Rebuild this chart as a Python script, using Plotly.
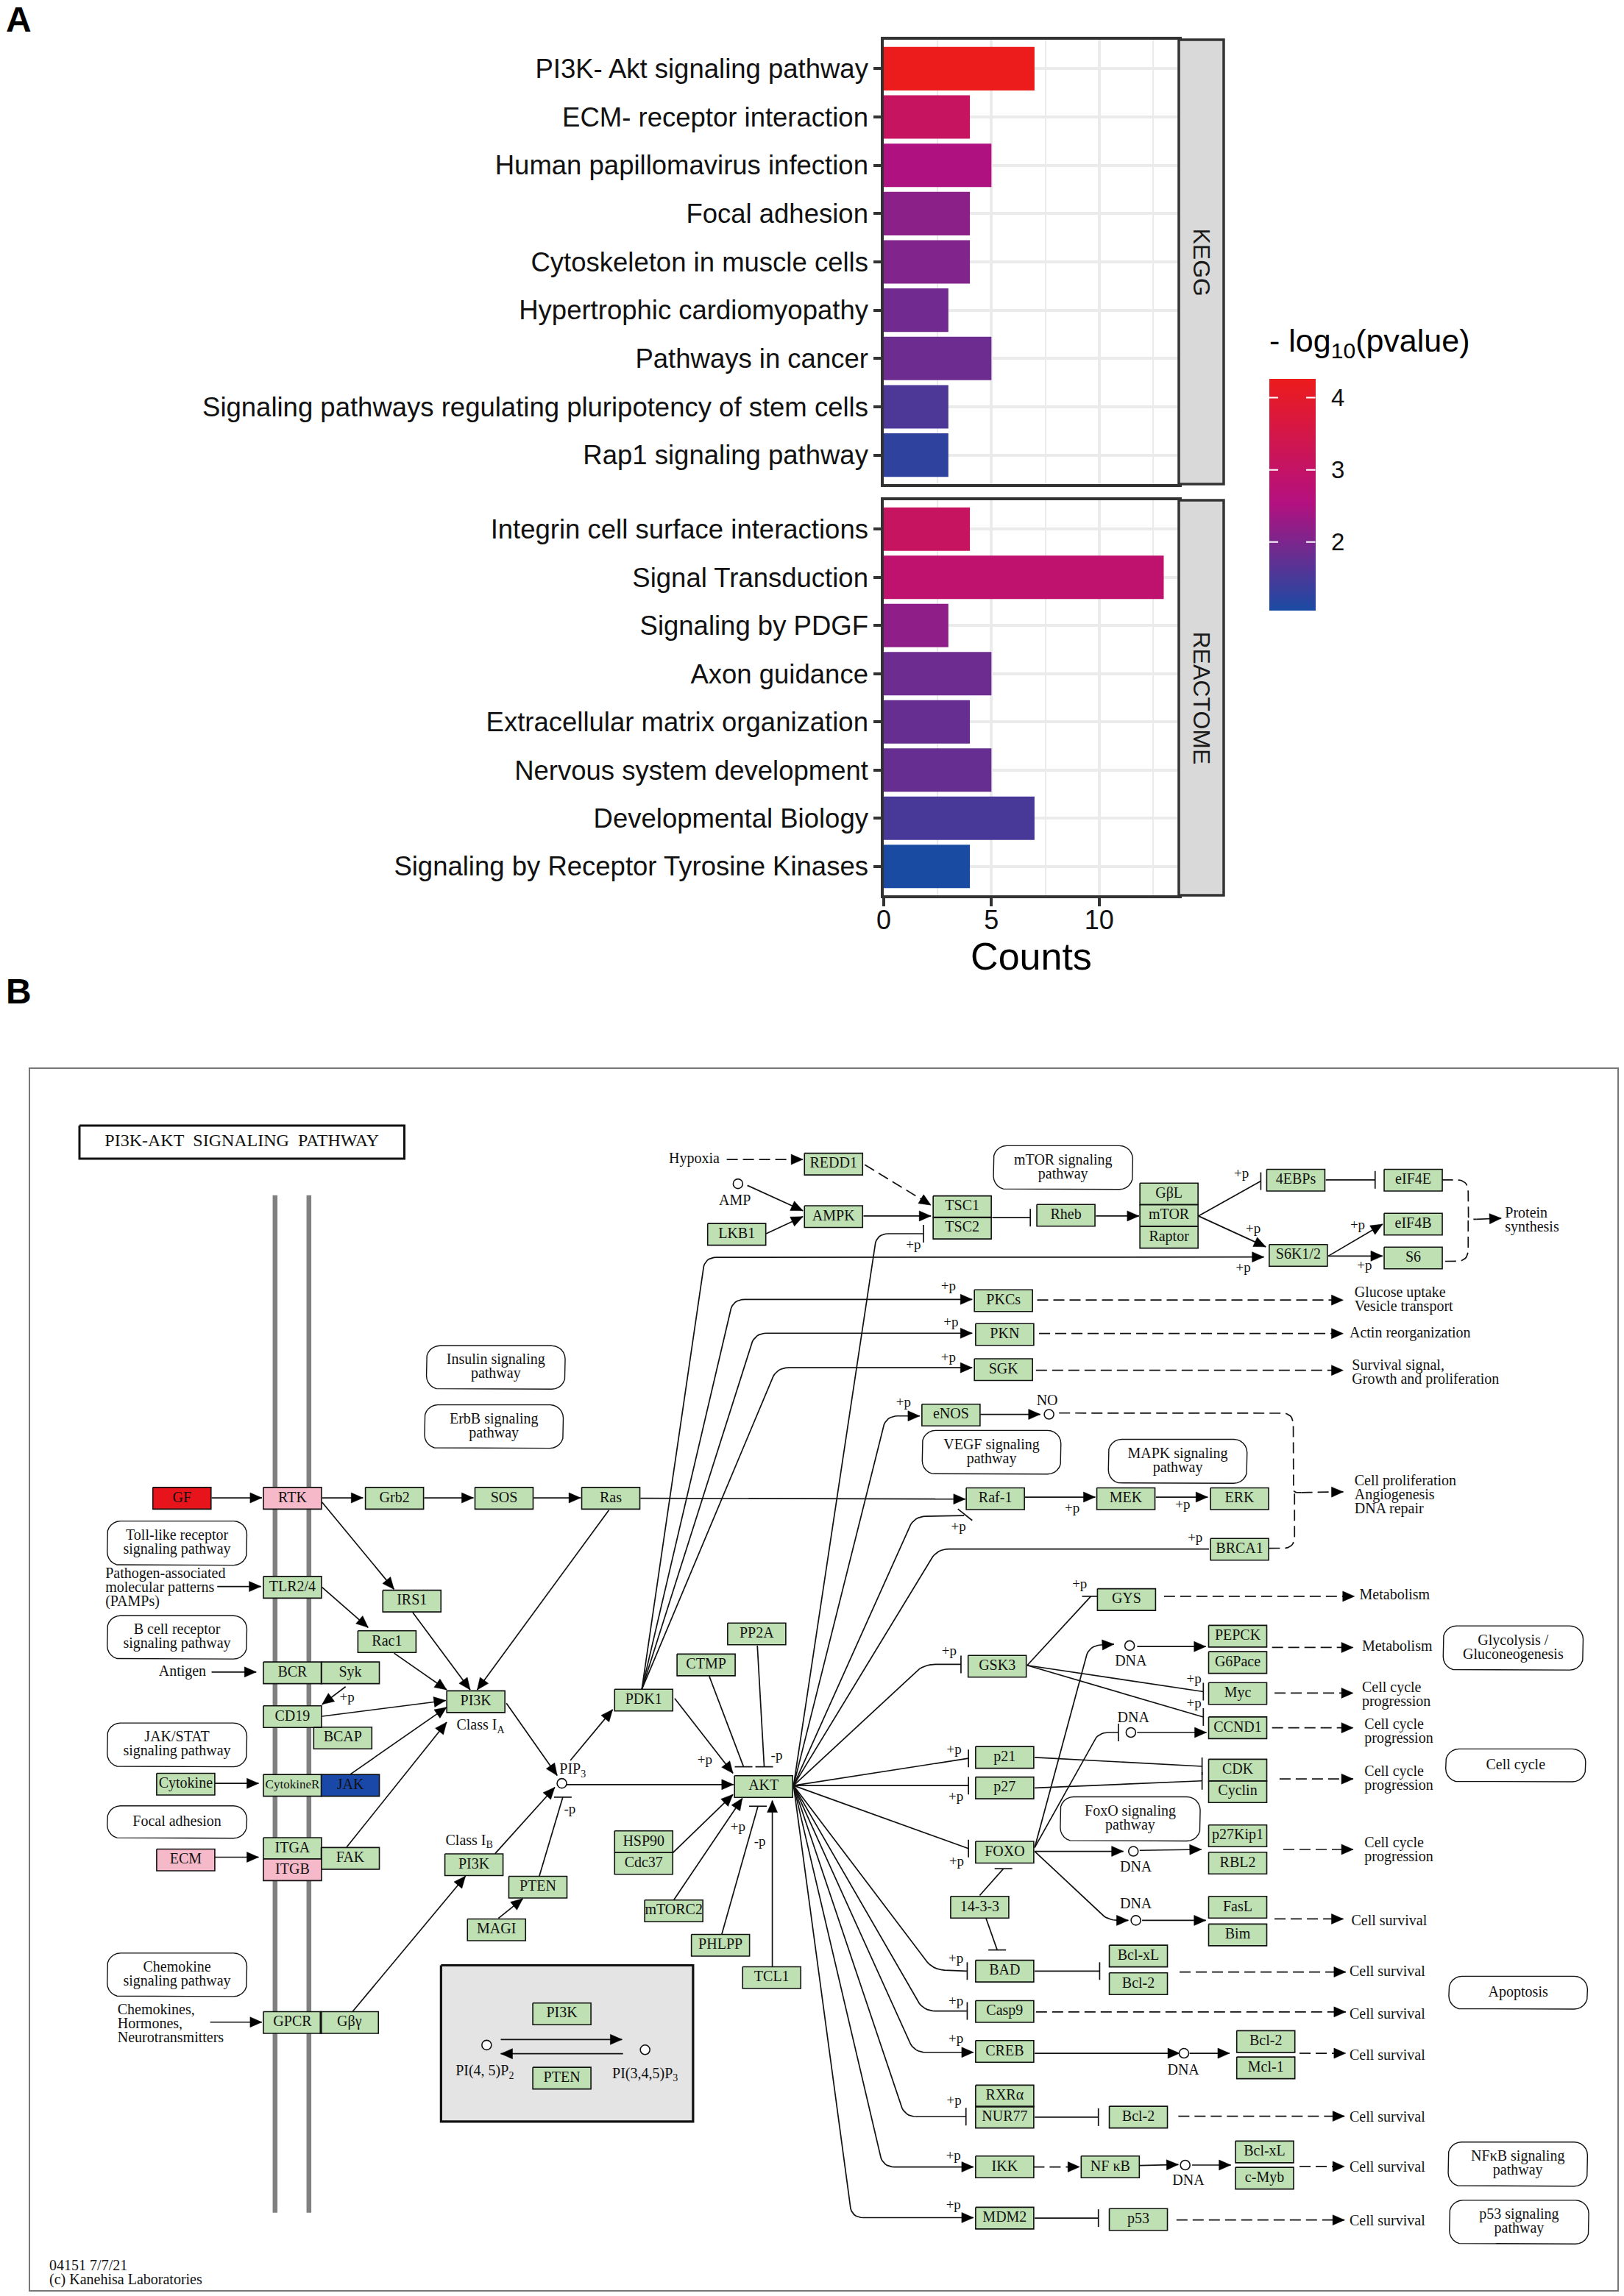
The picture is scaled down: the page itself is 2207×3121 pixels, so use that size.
import math
import plotly.graph_objects as go

# ---------- Panel A data ----------
kegg_terms = ["PI3K- Akt signaling pathway", "ECM- receptor interaction", "Human papillomavirus infection",
              "Focal adhesion", "Cytoskeleton in muscle cells", "Hypertrophic cardiomyopathy",
              "Pathways in cancer", "Signaling pathways regulating pluripotency of stem cells",
              "Rap1 signaling pathway"]
kegg_counts = [7, 4, 5, 4, 4, 3, 5, 3, 3]
kegg_logp = [4.26, 3.1, 2.5, 2.15, 2.05, 1.9, 1.85, 1.55, 1.25]
reactome_terms = ["Integrin cell surface interactions", "Signal Transduction", "Signaling by PDGF", "Axon guidance",
                  "Extracellular matrix organization", "Nervous system development", "Developmental Biology",
                  "Signaling by Receptor Tyrosine Kinases"]
reactome_counts = [4, 13, 3, 5, 4, 5, 7, 4]
reactome_logp = [3.1, 2.85, 2.2, 1.85, 1.8, 1.8, 1.5, 1.05]
legend_ticks = [2, 3, 4]

W, H = 2207, 3121
SANS, SERIF = "Liberation Sans", "Liberation Serif"


def fx(p):
    return p / W


def fy(p):
    return 1 - p / H


# ---------- Panel B data: pathway map tables, in map units of each of four sheets ----------
SHEETS = {"a": (0, 1.565, 1441, 1.867), "b": (0, 1.565, 2282, 1.864),
          "c": (881.5, 1.178, 1502, 2.24), "d": (881.5, 1.178, 2122, 1.5664)}


def mp(r, x, y):
    ox, sx, oy, sy = SHEETS[r]
    return ox + x / sx, oy + y / sy


nodes = [
    ("a", "GF", 387, 1112, "red"), ("a", "RTK", 622, 1112, "pink"), ("a", "Grb2", 839, 1112, "g"),
    ("a", "SOS", 1072, 1112, "g"), ("a", "Ras", 1299, 1112, "g"), ("a", "TLR2/4", 622, 1338, "g"),
    ("a", "IRS1", 876, 1373, "g"), ("a", "Rac1", 823, 1476, "g"), ("a", "BCR", 622, 1555, "g"),
    ("a", "Syk", 745, 1555, "g"),
    ("b", "PI3K", 1012, 58, "g"), ("b", "PDK1", 1369, 54, "g"), ("b", "CD19", 622, 96, "g"),
    ("b", "BCAP", 729, 150, "g"), ("b", "Cytokine", 395, 267, "g"), ("b", "CytokineR", 622, 270, "g"),
    ("b", "JAK", 745, 270, "blue"), ("b", "ITGA", 622, 430, "g"), ("b", "ECM", 395, 459, "pink"),
    ("b", "ITGB", 622, 484, "pink"), ("b", "FAK", 745, 455, "g"), ("b", "PI3K", 1008, 471, "g"),
    ("b", "PTEN", 1144, 528, "g"), ("b", "MAGI", 1056, 636, "g"), ("b", "HSP90", 1369, 413, "g"),
    ("b", "Cdc37", 1369, 468, "g"), ("b", "mTORC2", 1433, 588, "g"), ("b", "GPCR", 622, 871, "g"),
    ("b", "G\u03b2\u03b3", 743, 871, "g"), ("b", "PI3K", 1195, 849, "g"), ("b", "PTEN", 1195, 1012, "g"),
    ("c", "REDD1", 296, 180, "g"), ("c", "AMPK", 296, 340, "g"), ("c", "LKB1", 141, 394, "g"),
    ("c", "TSC1", 502, 310, "g"), ("c", "TSC2", 502, 375, "g"), ("c", "Rheb", 668, 336, "g"),
    ("c", "G\u03b2L", 833, 271, "g"), ("c", "mTOR", 833, 336, "g"), ("c", "Raptor", 833, 403, "g"),
    ("c", "4EBPs", 1036, 229, "g"), ("c", "eIF4E", 1224, 229, "g"), ("c", "eIF4B", 1224, 363, "g"),
    ("c", "S6", 1224, 466, "g"), ("c", "S6K1/2", 1040, 458, "g"), ("c", "PKCs", 568, 596, "g"),
    ("c", "PKN", 570, 699, "g"), ("c", "SGK", 568, 806, "g"), ("c", "eNOS", 484, 944, "g"),
    ("c", "Raf-1", 555, 1199, "g"), ("c", "MEK", 764, 1199, "g"), ("c", "ERK", 946, 1199, "g"),
    ("c", "BRCA1", 946, 1353, "g"),
    ("d", "GYS", 765, 82, "g"), ("d", "PP2A", 173, 155, "g"), ("d", "CTMP", 92, 221, "g"),
    ("d", "AKT", 184, 480, "g"), ("d", "TCL1", 197, 887, "g"), ("d", "PHLPP", 115, 818, "g"),
    ("d", "GSK3", 558, 224, "g"), ("d", "p21", 570, 418, "g"), ("d", "p27", 570, 483, "g"),
    ("d", "FOXO", 570, 620, "g"), ("d", "14-3-3", 530, 737, "g"), ("d", "BAD", 570, 873, "g"),
    ("d", "Casp9", 570, 959, "g"), ("d", "CREB", 570, 1044, "g"), ("d", "RXR\u03b1", 570, 1139, "g"),
    ("d", "NUR77", 570, 1184, "g"), ("d", "IKK", 570, 1290, "g"), ("d", "NF \u03baB", 739, 1290, "g"),
    ("d", "MDM2", 570, 1399, "g"), ("d", "p53", 784, 1402, "g"), ("d", "Bcl-xL", 784, 841, "g"),
    ("d", "Bcl-2", 784, 900, "g"), ("d", "PEPCK", 943, 160, "g"), ("d", "G6Pace", 943, 216, "g"),
    ("d", "Myc", 943, 282, "g"), ("d", "CCND1", 943, 355, "g"), ("d", "CDK", 943, 445, "g"),
    ("d", "Cyclin", 943, 491, "g"), ("d", "p27Kip1", 943, 585, "g"), ("d", "RBL2", 943, 643, "g"),
    ("d", "FasL", 943, 737, "g"), ("d", "Bim", 943, 796, "g"), ("d", "Bcl-2", 988, 1023, "g"),
    ("d", "Mcl-1", 988, 1079, "g"), ("d", "Bcl-2", 784, 1184, "g"), ("d", "Bcl-xL", 986, 1258, "g"),
    ("d", "c-Myb", 986, 1314, "g"),
]

pathways = [
    ("a", 907, 725, 1202, 835, "Insulin signaling\npathway"), ("a", 903, 875, 1198, 985, "ErbB signaling\npathway"),
    ("a", 228, 1170, 525, 1282, "Toll-like receptor\nsignaling pathway"),
    ("a", 228, 1410, 525, 1520, "B cell receptor\nsignaling pathway"),
    ("b", 228, 112, 525, 223, "JAK/STAT\nsignaling pathway"), ("b", 228, 322, 525, 404, "Focal adhesion"),
    ("b", 228, 695, 525, 805, "Chemokine\nsignaling pathway"),
    ("c", 552, 124, 775, 257, "mTOR signaling\npathway"), ("c", 438, 991, 660, 1124, "VEGF signaling\npathway"),
    ("c", 736, 1018, 958, 1152, "MAPK signaling\npathway"),
    ("d", 1272, 138, 1496, 232, "Glycolysis /\nGluconeogenesis"), ("d", 1276, 400, 1500, 470, "Cell cycle"),
    ("d", 659, 502, 883, 596, "FoxO signaling\npathway"), ("d", 1281, 884, 1503, 954, "Apoptosis"),
    ("d", 1280, 1237, 1503, 1331, "NF\u03baB signaling\npathway"), ("d", 1282, 1361, 1505, 1454, "p53 signaling\npathway"),
]

AKT = ("d", 232, 478)
PDK = ("b", 1365, 27)
edges = [
    # a arrow, i inhibition bar, n plain, da dashed arrow, dn dashed plain
    ("a", "a", [(450, 1111), (557, 1111)]), ("a", "a", [(685, 1111), (772, 1111)]),
    ("a", "a", [(902, 1111), (1007, 1111)]), ("a", "a", [(1135, 1111), (1235, 1111)]),
    ("a", "a", [(685, 1122), (838, 1343)]), ("a", "a", [(685, 1338), (783, 1440)]),
    ("a", "a", [(462, 1336), (555, 1336)]), ("a", "a", [(1295, 1142), ("b", 1015, 28)]),
    ("a", "a", [(878, 1402), ("b", 1000, 28)]), ("a", "a", [(838, 1505), ("b", 950, 28)]),
    ("a", "a", [(450, 1553), (545, 1553)]),
    ("a", "a", [(1362, 1112), ("c", 507, 1200)]),
    ("b", "a", [(735, 20), (685, 65)]), ("b", "a", [(685, 95), (948, 55)]), ("b", "a", [(745, 242), (950, 72)]),
    ("b", "a", [(737, 427), (950, 110)]), ("b", "a", [(457, 265), (550, 265)]), ("b", "a", [(457, 452), (550, 452)]),
    ("b", "a", [(447, 870), (557, 870)]), ("b", "a", [(750, 843), (990, 500)]), ("b", "a", [(1077, 62), (1185, 245)]),
    ("b", "a", [(1213, 207), (1303, 78)]), ("b", "a", [(1053, 443), (1180, 275)]), ("b", "a", [(1060, 607), (1112, 557)]),
    ("b", "i", [(1147, 500), (1197, 300)]), ("b", "a", [(1205, 268), (1560, 268)]),
    ("b", "a", [(1065, 914), (1323, 914)]), ("b", "a", [(1325, 950), (1065, 950)]),
    ("b", "a", [(1435, 50), ("d", 135, 452)]),
    ("b", "a", [PDK, ("c", 90, 464), ("c", 985, 463)]), ("b", "a", [PDK, ("c", 135, 592), ("c", 518, 592)]),
    ("b", "a", [PDK, ("c", 170, 695), ("c", 518, 695)]), ("b", "a", [PDK, ("c", 205, 800), ("c", 518, 800)]),
    ("d", "i", [AKT, ("c", 365, 392), ("c", 440, 392)]), ("d", "a", [AKT, ("c", 380, 947), ("c", 434, 947)]),
    ("d", "n", [AKT, ("c", 425, 1253), ("c", 505, 1250)]), ("c", "n", [(495, 1230), (518, 1265)]),
    ("d", "n", [AKT, ("c", 462, 1352), ("c", 897, 1352)]),
    ("d", "i", [AKT, (440, 220), (500, 220)]), ("d", "i", [AKT, (512, 420)]), ("d", "i", [AKT, (512, 478)]),
    ("d", "i", [AKT, (512, 612)]), ("d", "i", [AKT, (455, 870), (510, 873)]), ("d", "i", [AKT, (440, 958), (510, 958)]),
    ("d", "a", [AKT, (425, 1046), (520, 1046)]), ("d", "i", [AKT, (410, 1183), (508, 1183)]),
    ("d", "a", [AKT, (375, 1290), (520, 1290)]), ("d", "a", [AKT, (325, 1398), (520, 1398)]),
    ("d", "i", [(606, 222), (708, 75)]), ("d", "i", [(606, 222), (888, 278)]), ("d", "i", [(606, 222), (888, 332)]),
    ("d", "a", [(618, 610), (705, 180), (745, 177)]), ("d", "a", [(782, 182), (892, 182)]),
    ("d", "i", [(618, 610), (720, 365), (752, 365)]), ("d", "a", [(782, 365), (893, 365)]),
    ("d", "a", [(618, 618), (760, 618)]), ("d", "a", [(786, 616), (885, 614)]),
    ("d", "a", [(618, 618), (735, 765), (768, 765)]), ("d", "a", [(790, 765), (892, 765)]),
    ("d", "i", [(618, 418), (886, 437)]), ("d", "i", [(618, 483), (886, 468)]),
    ("d", "i", [(530, 712), (568, 655)]), ("d", "i", [(540, 760), (558, 828)]),
    ("d", "i", [(618, 873), (722, 873)]), ("d", "i", [(618, 1184), (720, 1184)]), ("d", "i", [(618, 1399), (720, 1399)]),
    ("d", "da", [(616, 1290), (690, 1290)]), ("d", "a", [(786, 1287), (848, 1285)]), ("d", "a", [(870, 1286), (932, 1286)]),
    ("d", "a", [(618, 1048), (850, 1048)]), ("d", "a", [(866, 1048), (930, 1048)]),
    ("d", "da", [(998, 184), (1128, 184)]), ("d", "da", [(1002, 281), (1128, 281)]), ("d", "da", [(998, 355), (1128, 355)]),
    ("d", "da", [(1010, 464), (1128, 464)]), ("d", "da", [(1016, 614), (1128, 614)]), ("d", "da", [(1002, 762), (1112, 762)]),
    ("d", "da", [(850, 875), (1116, 875)]), ("d", "da", [(620, 960), (1116, 960)]), ("d", "da", [(1042, 1048), (1116, 1048)]),
    ("d", "da", [(848, 1182), (1114, 1182)]), ("d", "da", [(1042, 1289), (1114, 1289)]), ("d", "da", [(845, 1403), (1114, 1403)]),
    ("d", "da", [(825, 75), (1130, 75)]),
    ("d", "i", [(97, 245), (152, 438)]), ("d", "i", [(174, 180), (185, 438)]), ("d", "a", [(198, 865), (198, 510)]),
    ("d", "i", [(117, 795), (175, 522)]), ("d", "a", [(40, 722), (150, 505)]), ("d", "a", [(38, 622), (135, 497)]),
    ("c", "da", [(125, 166), (247, 166)]), ("c", "da", [(346, 182), (452, 305)]), ("c", "a", [(158, 245), (247, 322)]),
    ("c", "a", [(188, 392), (247, 340)]), ("c", "a", [(344, 338), (452, 338)]), ("c", "i", [(550, 343), (611, 343)]),
    ("c", "a", [(716, 338), (785, 338)]), ("c", "i", [(880, 338), (980, 232)]), ("c", "a", [(880, 338), (988, 432)]),
    ("c", "i", [(1084, 228), (1163, 228)]), ("c", "a", [(1088, 460), (1175, 363)]), ("c", "a", [(1088, 460), (1175, 460)]),
    ("c", "dn", [(1270, 228), (1312, 228), (1312, 348), (1325, 348)]), ("c", "dn", [(1275, 476), (1312, 476), (1312, 348)]),
    ("c", "a", [(1325, 348), (1365, 345)]),
    ("c", "a", [(531, 942), (627, 942)]),
    ("c", "dn", [(657, 938), (1032, 938), (1032, 1180), (1045, 1180)]),
    ("c", "dn", [(993, 1350), (1034, 1350), (1034, 1180)]),
    ("c", "da", [(1045, 1180), (1112, 1178)]),
    ("c", "a", [(602, 1194), (715, 1194)]), ("c", "a", [(812, 1194), (895, 1194)]),
    ("c", "da", [(622, 594), (1112, 594)]), ("c", "da", [(625, 696), (1112, 696)]), ("c", "da", [(620, 808), (1112, 808)]),
]

circles = [("b", 1195, 265), ("b", 1035, 928), ("b", 1372, 940), ("c", 143, 240), ("c", 641, 942),
           ("d", 770, 180), ("d", 772, 365), ("d", 776, 618), ("d", 780, 765), ("d", 857, 1048), ("d", 859, 1286)]

plain_labels = [
    ("c", 73, 165, "Hypoxia"), ("c", 138, 293, "AMP"), ("c", 638, 902, "NO"),
    ("a", 388, 1553, "Antigen"), ("b", 1218, 232, "PIP<sub>3</sub>"), ("b", 1022, 120, "Class I<sub>A</sub>"),
    ("b", 998, 412, "Class I<sub>B</sub>"), ("b", 1031, 996, "PI(4, 5)P<sub>2</sub>"), ("b", 1372, 1002, "PI(3,4,5)P<sub>3</sub>"),
    ("d", 772, 215, "DNA"), ("d", 776, 335, "DNA"), ("d", 780, 653, "DNA"), ("d", 780, 731, "DNA"),
    ("d", 856, 1086, "DNA"), ("d", 864, 1321, "DNA"),
]
left_labels = [
    ("a", 224, 1341, "Pathogen-associated\nmolecular patterns\n(PAMPs)"), ("b", 250, 877, "Chemokines,\nHormones,\nNeurotransmitters"),
    ("b", 105, 1507, "04151 7/7/21\n(c) Kanehisa Laboratories"),
    ("c", 1371, 353, "Protein\nsynthesis"), ("c", 1130, 594, "Glucose uptake\nVesicle transport"), ("c", 1122, 696, "Actin reorganization"),
    ("c", 1126, 816, "Survival signal,\nGrowth and proliferation"), ("c", 1130, 1189, "Cell proliferation\nAngiogenesis\nDNA repair"),
    ("d", 1138, 73, "Metabolism"), ("d", 1142, 183, "Metabolism"), ("d", 1142, 286, "Cell cycle\nprogression"),
    ("d", 1146, 364, "Cell cycle\nprogression"), ("d", 1146, 465, "Cell cycle\nprogression"), ("d", 1146, 617, "Cell cycle\nprogression"),
    ("d", 1125, 768, "Cell survival"), ("d", 1122, 875, "Cell survival"), ("d", 1122, 966, "Cell survival"),
    ("d", 1122, 1054, "Cell survival"), ("d", 1122, 1185, "Cell survival"), ("d", 1122, 1292, "Cell survival"),
    ("d", 1122, 1407, "Cell survival"),
]
phospho_labels = [
    ("b", 738, 48, "+p"), ("b", 1212, 332, "-p"),
    ("c", 949, 210, "+p"), ("c", 968, 378, "+p"), ("c", 952, 498, "+p"), ("c", 1135, 368, "+p"), ("c", 1146, 490, "+p"),
    ("c", 424, 428, "+p"), ("c", 480, 553, "+p"), ("c", 484, 663, "+p"), ("c", 480, 770, "+p"), ("c", 408, 907, "+p"),
    ("c", 678, 1230, "+p"), ("c", 855, 1220, "+p"), ("c", 496, 1287, "+p"), ("c", 875, 1320, "+p"),
    ("d", 90, 425, "+p"), ("d", 205, 415, "-p"), ("d", 143, 568, "+p"), ("d", 178, 598, "-p"), ("d", 481, 193, "+p"),
    ("d", 489, 403, "+p"), ("d", 492, 503, "+p"), ("d", 493, 641, "+p"), ("d", 492, 848, "+p"), ("d", 492, 938, "+p"),
    ("d", 492, 1018, "+p"), ("d", 489, 1150, "+p"), ("d", 488, 1268, "+p"), ("d", 488, 1372, "+p"), ("d", 690, 50, "+p"),
    ("d", 873, 252, "+p"), ("d", 873, 305, "+p"),
]
map_title = "PI3K-AKT\u00a0\u00a0SIGNALING\u00a0\u00a0PATHWAY"
NODE_FILL = {"g": "#bfe0b3", "pink": "#f6b9c9", "red": "#e8141c", "blue": "#1a48a8"}

# ---------- Geometry helpers for the map ----------


def to_px(default, p):
    return mp(p[0], p[1], p[2]) if len(p) == 3 else mp(default, p[0], p[1])


def rounded_path(pts, r=16):
    if len(pts) < 3:
        return pts
    out = [pts[0]]
    for a, b, c in zip(pts, pts[1:], pts[2:]):
        d1, d2 = math.dist(a, b), math.dist(b, c)
        rr = min(r, d1 / 2, d2 / 2)
        p0 = (b[0] + (a[0] - b[0]) * rr / d1, b[1] + (a[1] - b[1]) * rr / d1)
        p2 = (b[0] + (c[0] - b[0]) * rr / d2, b[1] + (c[1] - b[1]) * rr / d2)
        for i in range(9):
            t = i / 8
            out.append(((1 - t) ** 2 * p0[0] + 2 * t * (1 - t) * b[0] + t * t * p2[0],
                        (1 - t) ** 2 * p0[1] + 2 * t * (1 - t) * b[1] + t * t * p2[1]))
    out.append(pts[-1])
    return out


def rr_outline(x0, y0, x1, y1, r=18):
    out = []
    for cx, cy, a0 in ((x1 - r, y0 + r, -90), (x1 - r, y1 - r, 0), (x0 + r, y1 - r, 90), (x0 + r, y0 + r, 180)):
        for i in range(7):
            a = math.radians(a0 + 15 * i)
            out.append((cx + r * math.cos(a), cy + r * math.sin(a)))
    out.append(out[0])
    return out


def add_xy(xs, ys, pts):
    xs.extend(p[0] for p in pts)
    ys.extend(p[1] for p in pts)
    xs.append(None)
    ys.append(None)


fig = go.Figure()
GREY = "#333333"
bar_kw = dict(orientation="h", marker=dict(coloraxis="coloraxis", line_width=0), width=0.9,
              hovertemplate="%{y}: %{x}<extra></extra>", showlegend=False)
fig.add_trace(go.Bar(x=kegg_counts, y=kegg_terms, xaxis="x", yaxis="y", **bar_kw))
fig.data[-1].marker.color = kegg_logp
fig.add_trace(go.Bar(x=reactome_counts, y=reactome_terms, xaxis="x2", yaxis="y2", **bar_kw))
fig.data[-1].marker.color = reactome_logp

MAP = dict(xaxis="x3", yaxis="y3", hoverinfo="skip", showlegend=False)


def map_poly(polys, fill, lw=1.4, lc="#111111"):
    xs, ys = [], []
    for p in polys:
        add_xy(xs, ys, p)
    fig.add_trace(go.Scatter(x=xs, y=ys, mode="lines", fill="toself", fillcolor=fill,
                             line=dict(color=lc, width=lw), **MAP))


# inset + membrane bars
ix0, iy0 = mp("b", 938, 726)
ix1, iy1 = mp("b", 1474, 1122)
map_poly([[(ix0, iy0), (ix1, iy0), (ix1, iy1), (ix0, iy1), (ix0, iy0)]], "#e4e4e4", 3.2)
mx, my = [], []
for zx in (585, 657):
    add_xy(mx, my, [mp("a", zx, 343), mp("b", zx, 1353)])
fig.add_trace(go.Scatter(x=mx, y=my, mode="lines", line=dict(color="#808080", width=6.5), **MAP))

# edges
solid_x, solid_y, dash_x, dash_y, heads = [], [], [], [], []
for region, kind, raw in edges:
    pts = [to_px(region, p) for p in raw]
    path = rounded_path(pts)
    if kind.startswith("d"):
        add_xy(dash_x, dash_y, path)
    else:
        add_xy(solid_x, solid_y, path)
    (ax, ay), (bx, by) = path[-2], path[-1]
    d = math.hypot(bx - ax, by - ay) or 1
    ux, uy = (bx - ax) / d, (by - ay) / d
    if kind in ("a", "da"):
        L, hw = 16, 7
        heads.append([(bx, by), (bx - L * ux - hw * uy, by - L * uy + hw * ux),
                      (bx - L * ux + hw * uy, by - L * uy - hw * ux), (bx, by)])
    elif kind == "i":
        if abs(ux) >= abs(uy):
            add_xy(solid_x, solid_y, [(bx, by - 12), (bx, by + 12)])
        else:
            add_xy(solid_x, solid_y, [(bx - 12, by), (bx + 12, by)])
fig.add_trace(go.Scatter(x=solid_x, y=solid_y, mode="lines", line=dict(color="#111111", width=1.7), **MAP))
fig.add_trace(go.Scatter(x=dash_x, y=dash_y, mode="lines", line=dict(color="#111111", width=1.7, dash="15px,7px"), **MAP))
map_poly(heads, "#000000", 0.5, "#000000")

# pathway boxes
map_poly([rr_outline(*mp(r, x0, y0), *mp(r, x1, y1)) for r, x0, y0, x1, y1, _ in pathways], "#ffffff", 1.4)
# title box
tx0, ty0 = mp("a", 169, 166)
tx1, ty1 = mp("a", 860, 250)
map_poly([[(tx0, ty0), (tx1, ty0), (tx1, ty1), (tx0, ty1), (tx0, ty0)]], "#ffffff", 3)

# gene boxes
NW, NH = 79, 29.5
for key, fill in NODE_FILL.items():
    polys = []
    for r, _, x, y, c in nodes:
        if c == key:
            px, py = mp(r, x, y)
            polys.append([(px - NW / 2, py - NH / 2), (px + NW / 2, py - NH / 2), (px + NW / 2, py + NH / 2),
                          (px - NW / 2, py + NH / 2), (px - NW / 2, py - NH / 2)])
    map_poly(polys, fill, 1.6)

# small circles
cp = [mp(*c) for c in circles]
fig.add_trace(go.Scatter(x=[p[0] for p in cp], y=[p[1] for p in cp], mode="markers",
                         marker=dict(size=13, color="white", line=dict(color="#111111", width=1.6)), **MAP))


def map_text(items, size, pos="middle center"):
    xs, ys, ts = [], [], []
    for px, py, txt in items:
        lines = txt.split("\n")
        for i, ln in enumerate(lines):
            xs.append(px)
            ys.append(py + (i - (len(lines) - 1) / 2) * 19)
            ts.append(ln)
    fig.add_trace(go.Scatter(x=xs, y=ys, text=ts, mode="text", textposition=pos,
                             textfont=dict(family=SERIF, size=size, color="#111111"), **MAP))


map_text([(*mp(r, x, y), n) for r, n, x, y, _ in nodes if n != "CytokineR"], 20)
map_text([(*mp(r, x, y), n) for r, n, x, y, _ in nodes if n == "CytokineR"], 17)
map_text([(*mp(r, (x0 + x1) / 2, (y0 + y1) / 2), t) for r, x0, y0, x1, y1, t in pathways], 20)
map_text([(*mp(r, x, y), t) for r, x, y, t in plain_labels], 20)
map_text([(*mp(r, x, y), t) for r, x, y, t in left_labels], 20, "middle right")
map_text([(*mp(r, x, y), t) for r, x, y, t in phospho_labels], 19)
map_text([((tx0 + tx1) / 2, (ty0 + ty1) / 2, map_title)], 24)

# ---------- Layout ----------
PX0, PX1 = 1201, 1602
P1T, P1B, P2T, P2B = 54, 658, 680, 1217
STRIP_R = 1663
FX0, FX1, FY0, FY1 = 40.5, 2198, 1453, 3112.5
common_x = dict(range=[0, 13.7], dtick=5, tick0=0, showgrid=True, gridcolor="#ebebeb", gridwidth=4,
                minor=dict(dtick=2.5, showgrid=True, gridcolor="#ebebeb", gridwidth=2),
                showline=True, mirror=True, linecolor=GREY, linewidth=3.5, zeroline=False,
                domain=[fx(PX0), fx(PX1)])
common_y = dict(showgrid=True, gridcolor="#ebebeb", gridwidth=4, showline=True, mirror=True,
                linecolor=GREY, linewidth=3.5, ticks="outside", ticklen=10, tickwidth=4, tickcolor=GREY,
                zeroline=False, tickfont=dict(family=SANS, size=36.5, color="#111111"), type="category",
                automargin=False)
shapes = []
for t, b in ((P1T, P1B), (P2T, P2B)):
    shapes.append(dict(type="rect", xref="paper", yref="paper", x0=fx(PX1), x1=fx(STRIP_R), y0=fy(t), y1=fy(b),
                       fillcolor="#d9d9d9", line=dict(color=GREY, width=3.5), layer="above"))

annots = [
    dict(text="<b>A</b>", x=fx(25), y=fy(27)),
    dict(text="<b>B</b>", x=fx(25), y=fy(1347)),
]
annots = [dict(a, xref="paper", yref="paper", showarrow=False, xanchor="center", yanchor="middle",
               font=dict(family=SANS, size=48, color="#000000")) for a in annots]
for name, cy in (("KEGG", 356), ("REACTOME", 949)):
    annots.append(dict(text=name, x=fx((PX1 + STRIP_R) / 2), y=fy(cy), xref="paper", yref="paper", showarrow=False,
                       textangle=90, xanchor="center", yanchor="middle",
                       font=dict(family=SANS, size=32, color="#1a1a1a")))
annots.append(dict(text="- log<sub>10</sub>(pvalue)", x=fx(1723), y=fy(466), xref="paper", yref="paper",
                   showarrow=False, xanchor="left", yanchor="middle", font=dict(family=SANS, size=43, color="#000000")))
CB_TOP, CB_BOT, CB_L, CB_W = 515, 830, 1724.5, 63
CMIN, CMAX = 1.05, 4.26
for v in legend_ticks:
    py = CB_TOP + (CMAX - v) / (CMAX - CMIN) * (CB_BOT - CB_TOP)
    for xpos, off in ((CB_L, 13), (CB_L + CB_W, -13)):
        annots.append(dict(text="\u00a0", x=fx(xpos), y=fy(py), xref="paper", yref="paper", showarrow=True, arrowhead=0,
                           arrowcolor="white", arrowwidth=2, ax=off, ay=0, axref="pixel", ayref="pixel",
                           font=dict(size=1), borderpad=0))

fig.update_layout(
    width=W, height=H, margin=dict(l=0, r=0, t=0, b=0, pad=0, autoexpand=False), paper_bgcolor="white", plot_bgcolor="white",
    font=dict(family=SANS, color="#000000"), bargap=0.1, shapes=shapes, annotations=annots,
    xaxis=dict(common_x, anchor="y", ticks="", showticklabels=False),
    yaxis=dict(common_y, anchor="x", domain=[fy(P1B), fy(P1T)], range=[8.6, -0.6],
               categoryorder="array", categoryarray=kegg_terms),
    xaxis2=dict(common_x, anchor="y2", ticks="outside", ticklen=11, tickwidth=4, tickcolor=GREY,
                tickfont=dict(family=SANS, size=36, color="#111111"), ticklabelstandoff=-12,
                title=dict(text="Counts", font=dict(family=SANS, size=52, color="#000000"), standoff=0)),
    yaxis2=dict(common_y, anchor="x2", domain=[fy(P2B), fy(P2T)], range=[7.6, -0.6],
                categoryorder="array", categoryarray=reactome_terms),
    xaxis3=dict(domain=[fx(FX0), fx(FX1)], range=[FX0, FX1], anchor="y3", showgrid=False, zeroline=False,
                showline=True, mirror=True, linecolor="#777777", linewidth=2, ticks="", showticklabels=False),
    yaxis3=dict(domain=[fy(FY1), fy(FY0)], range=[FY1, FY0], anchor="x3", showgrid=False, zeroline=False,
                showline=True, mirror=True, linecolor="#777777", linewidth=2, ticks="", showticklabels=False),
    coloraxis=dict(cmin=CMIN, cmax=CMAX,
                   colorscale=[[0, "#1a4ba3"], [0.47, "#b5107f"], [1, "#ec1c1c"]],
                   colorbar=dict(thickness=CB_W, thicknessmode="pixels", len=CB_BOT - CB_TOP, lenmode="pixels",
                                 x=fx(CB_L), xanchor="left", y=fy(CB_TOP), yanchor="top", xpad=0, ypad=0,
                                 outlinewidth=0, tickvals=legend_ticks, ticks="outside", ticklen=15, tickwidth=2,
                                 tickcolor="rgba(255,255,255,0)", tickfont=dict(family=SANS, size=33, color="#111111"))),
)

fig.write_html("out.html", config=dict(displayModeBar=False),
               post_script="document.body.style.margin='0';")
